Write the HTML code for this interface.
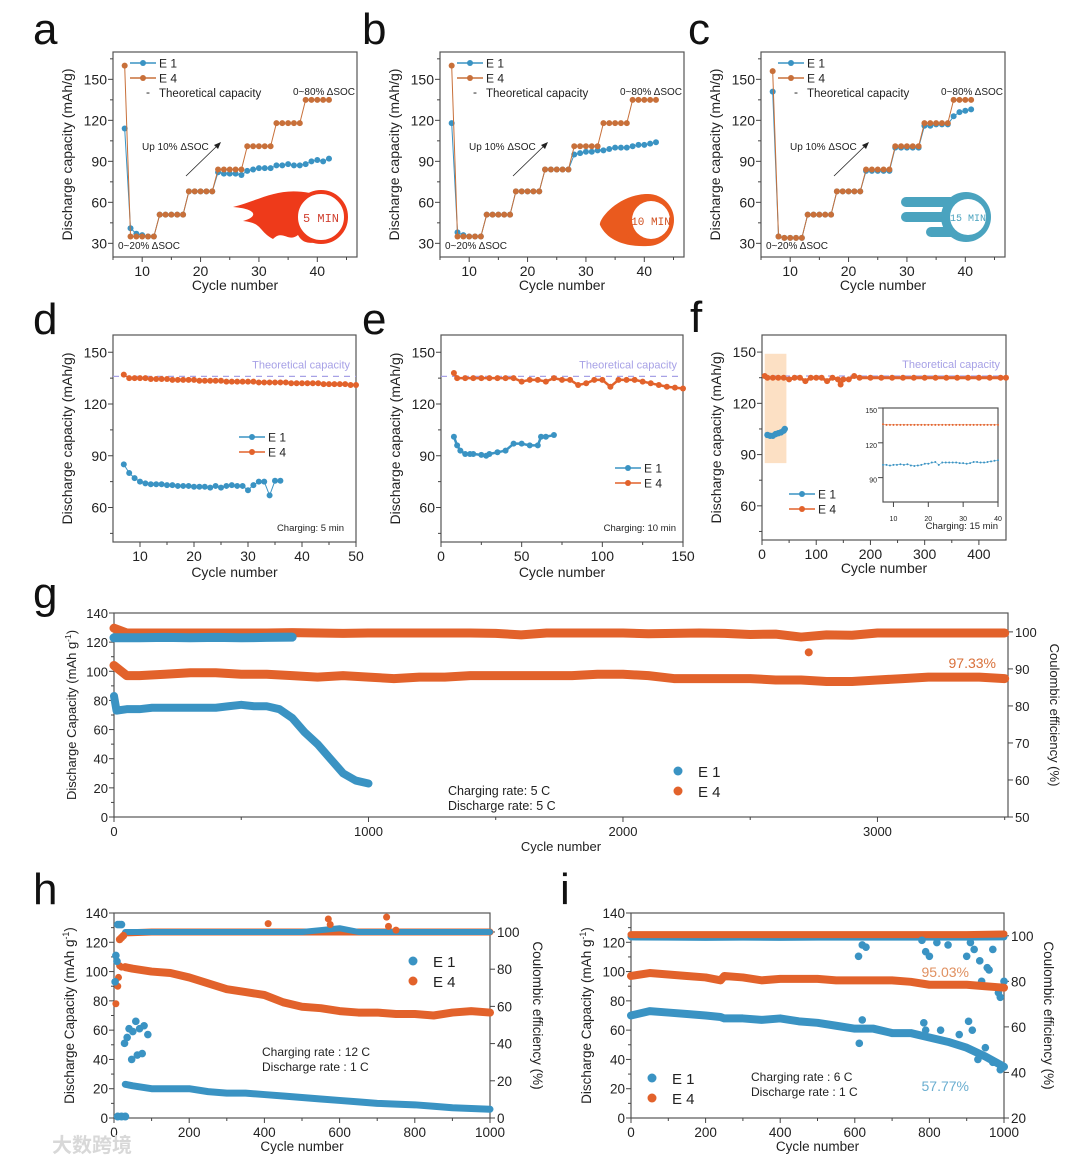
<!DOCTYPE html>
<html><head><meta charset="utf-8">
<style>
html,body{margin:0;padding:0;background:#fff;}
svg{display:block;font-family:"Liberation Sans",Arial,sans-serif;}
</style></head>
<body>
<svg id="fig" width="1080" height="1164" viewBox="0 0 1080 1164"></svg>
<script>
// ---------- DATA ----------
const aCycles=[7,8,9,10,11,12,13,14,15,16,17,18,19,20,21,22,23,24,25,26,27,28,29,30,31,32,33,34,35,36,37,38,39,40,41,42];
const aE4=[160,35,35,35,35,35,51,51,51,51,51,68,68,68,68,68,84,84,84,84,84,101,101,101,101,101,118,118,118,118,118,135,135,135,135,135];
const aE1=[114,41,37,36,35,35,51,51,51,51,51,68,68,68,68,68,82,81,81,81,80,83,84,85,85,85,87,87,88,87,87,88,90,91,90,92];
const bE4=[160,35,35,35,35,35,51,51,51,51,51,68,68,68,68,68,84,84,84,84,84,101,101,101,101,101,118,118,118,118,118,135,135,135,135,135];
const bE1=[118,38,36,35,35,35,51,51,51,51,51,68,68,68,68,68,84,84,84,84,84,95,96,97,97,98,98,99,100,100,100,101,102,102,103,104];
const cCycles=[7,8,9,10,11,12,13,14,15,16,17,18,19,20,21,22,23,24,25,26,27,28,29,30,31,32,33,34,35,36,37,38,39,40,41];
const cE4=[156,35,34,34,34,34,51,51,51,51,51,68,68,68,68,68,84,84,84,84,84,101,101,101,101,101,118,118,118,118,118,135,135,135,135];
const cE1=[141,35,34,34,34,34,51,51,51,51,51,68,68,68,68,68,83,83,83,83,83,100,100,100,100,100,116,116,117,117,117,123,126,127,128];

const dCyclesE4=[7,8,9,10,11,12,13,14,15,16,17,18,19,20,21,22,23,24,25,26,27,28,29,30,31,32,33,34,35,36,37,38,39,40,41,42,43,44,45,46,47,48,49,50];
const dE4=[137,135,135,135,135,134.5,134.5,134.5,134.5,134,134,134,134,134,133.5,133.5,133.5,133.5,133.5,133,133,133,133,133,133,132.5,132.5,132.5,132.5,132.5,132.5,132,132,132,132,132,132,131.5,131.5,131.5,131.5,131.5,131,131];
const dCyclesE1=[7,8,9,10,11,12,13,14,15,16,17,18,19,20,21,22,23,24,25,26,27,28,29,30,31,32,33,34,35,36];
const dE1=[85,80,77,75,74,73.5,73.5,73.5,73,73,72.5,72.5,72.5,72,72,72,71.5,72.5,71.5,72.5,73,72.5,72.5,70,73,75,75,67,75.5,75.5];

const eCyclesE4=[8,10,15,20,25,30,35,40,45,50,55,60,65,70,75,80,85,90,95,100,105,110,115,120,125,130,135,140,145,150];
const eE4=[138,135,135,135,135,135,135,135,135,133,134,134,133,135,134,134,131,132,134,134,130,134,134,134,133,132,131,130,129.5,129];
const eCyclesE1=[8,10,12,15,18,20,25,28,30,35,40,45,50,55,60,62,65,70];
const eE1=[101,96,93,91,91,91,90.5,90,91,92,93,97,97,96,96,101,101,102];

const fCyclesE4=[5,10,20,30,40,50,60,70,80,90,100,110,120,130,140,145,150,160,170,180,200,220,240,260,280,300,320,340,360,380,400,420,440,450];
const fE4=[136,135,135,135,135,134,135,135,133,135,135,135,133,135,134,131,134,134,136,135,135,135,135,135,135,135,135,135,135,135,135,135,135,135];
const fCyclesE1=[10,15,20,25,30,35,40,42];
const fE1=[101.5,101,101,102,102.5,103,104,105];
const insetCycles=[7,8,9,10,11,12,13,14,15,16,17,18,19,20,21,22,23,24,25,26,27,28,29,30,31,32,33,34,35,36,37,38,39,40];
const insetE4=[136,135.5,135.5,135.5,135.5,135.5,135.5,135.5,135.5,135.5,135.5,135.5,135.5,135.5,135.5,135.5,135.5,135.5,135.5,135.5,135.5,135.5,135.5,135.5,135.5,135.5,135.5,135.5,135.5,135.5,135.5,135.5,135.5,135.5];
const insetE1=[101,101,100.5,101,101,101.5,101,101.5,100.5,100,100.5,101,102,102,103,103.5,101,103,103,103,103,103,102.5,102.5,102,102.5,103.5,103.5,103,103,103.5,104,104.5,105];

const gCyclesE4=[0,50,100,200,300,400,500,600,700,800,900,1000,1100,1200,1300,1400,1500,1600,1700,1800,1900,2000,2100,2200,2300,2400,2500,2600,2700,2800,2900,3000,3100,3200,3300,3400,3500];
const gE4cap=[104,97,97,98,99,99,98,98,97,96,97,96,95,96,96,97,97,97,97,97,98,98,97,95,95,95,95,94,94,93,93,94,95,96,96,96,95];
const gE4ce=[101,99.7,99.7,99.7,99.7,99.7,99.7,99.7,99.8,99.7,99.6,99.7,99.7,99.7,99.7,99.7,99.6,99.2,99.7,99.7,99.7,99.7,99.5,99.6,99.7,99.6,99.3,99.4,98.6,99.2,99.1,99.7,99.7,99.7,99.7,99.7,99.7];
const gCyclesE1=[0,10,50,100,150,200,250,300,350,400,450,500,550,600,650,700,750,800,850,900,950,1000];
const gE1cap=[83,73,74,74,75,75,75,75,75,75,76,77,76,76,74,68,58,50,40,30,25,23];
const gCyclesE1ce=[0,100,200,300,400,500,600,700];
const gE1ce=[98.4,98.4,98.5,98.4,98.5,98.4,98.5,98.6];

const hCycles=[30,50,100,150,200,250,300,350,400,450,500,550,600,650,700,750,800,850,900,950,1000];
const hE4cap=[103,102,100,99,96,92,88,86,84,79,76,75,73,72,72,71,71,70,72,73,72];
const hE1cap=[23,22,20,20,20,18,17,17,16,15,14,13,12,11,10,9.5,9,8,7,6.5,6];
const hE1earlyX=[3,5,8,28,35,40,47,50,58,62,68,75,80,90];
const hE1earlyY=[93,111,107,51,55,61,40,59,66,43,61,44,63,57];
const hE4earlyX=[5,10,12,15,20];
const hE4earlyY=[78,90,96,104,103];
const hCeX=[30,100,200,300,400,500,550,600,650,700,800,900,1000];
const hE4ce=[99.5,100,100,100,100,100,100,100,100,100,100,100,100];
const hE1ce=[100,100,100,100,100,100,101,102,100,100,100,100,100];
const hE1ceEarlyX=[10,15,20];
const hE1ceEarlyY=[104,104,104];
const hE4ceEarlyX=[15,20,25];
const hE4ceEarlyY=[96,97,98];
const hE4outX=[410,570,575,725,730,750];
const hE4outY=[104.5,107,104,108,103,101];

const iCycles=[0,50,100,150,200,240,250,300,350,400,450,500,550,600,650,700,750,800,850,900,950,1000];
const iE4cap=[97,99,98,97,96,94,97,96,94,95,95,95,94,94,94,94,93,91,91,91,90,89];
const iE1cap=[70,73,72,71,70,69,68,68,67,68,66,65,63,61,61,58,58,55,52,48,42,35];
const iE1outX=[612,620,785,790,830,880,905,915,930,950,970,990];
const iE1outY=[51,67,65,60,60,57,66,60,40,48,38,33];
const iCeX=[0,100,200,300,400,500,600,700,800,900,1000];
const iE4ce=[100.5,100.5,100.5,100.5,100.5,100.5,100.5,100.5,100.5,100.5,100.8];
const iE1ce=[99.5,99.4,99.3,99.4,99.3,99.4,99.4,99.4,99.4,99.4,99.5];
const iE1ceOutX=[610,620,630,780,790,800,820,850,900,910,920,935,940,955,960,970,985,990,1000];
const iE1ceOutY=[91,96,95,98,93,91,97,96,91,97,94,89,80,86,85,94,75,73,80];

// ---------- HELPERS ----------
const NS='http://www.w3.org/2000/svg';
const svg=document.getElementById('fig');
const BLUE='#3a93c3', ORANGE='#e2622b', BROWN='#c8703a', LAV='#a7a1e6';
function mk(tag,attrs,parent){const e=document.createElementNS(NS,tag);for(const k in attrs)e.setAttribute(k,attrs[k]);(parent||svg).appendChild(e);return e;}
function tx(str,x,y,attrs,parent){const e=mk('text',Object.assign({x:x,y:y},attrs||{}),parent);e.textContent=str;return e;}

function axes(o){
  const g=mk('g',{});
  
  
  const sx=v=>o.x0+(v-o.xd[0])/(o.xd[1]-o.xd[0])*(o.x1-o.x0);
  const sy=v=>o.y1-(v-o.yd[0])/(o.yd[1]-o.yd[0])*(o.y1-o.y0);
  const sy2=o.y2d?(v=>o.y1-(v-o.y2d[0])/(o.y2d[1]-o.y2d[0])*(o.y1-o.y0)):null;
  const fs=o.fs||14, ff=o.ff||'"Liberation Sans",Arial,sans-serif';
  const fr=mk('rect',{x:o.x0,y:o.y0,width:o.x1-o.x0,height:o.y1-o.y0,fill:'none',stroke:'#555','stroke-width':1.2},g);
  
  
  o.xt.forEach((v,i)=>{const x=sx(v);mk('line',{x1:x,y1:o.y1,x2:x,y2:o.y1+5,stroke:'#444'},g);
    const t=tx(o.xtl?o.xtl[i]:String(v),x,o.y1+19,{'font-size':fs,'text-anchor':'middle',fill:'#222','font-family':ff},g);
    
    });
  (o.xm||[]).forEach(v=>{const x=sx(v);mk('line',{x1:x,y1:o.y1,x2:x,y2:o.y1+3,stroke:'#444'},g);});
  o.yt.forEach(v=>{const y=sy(v);mk('line',{x1:o.x0,y1:y,x2:o.x0-5,y2:y,stroke:'#444'},g);
    const t=tx(String(v),o.x0-6,y+5,{'font-size':fs,'text-anchor':'end',fill:'#222','font-family':ff},g);
    
    });
  (o.ym||[]).forEach(v=>{const y=sy(v);mk('line',{x1:o.x0,y1:y,x2:o.x0-3,y2:y,stroke:'#444'},g);});
  if(o.y2t){o.y2t.forEach(v=>{const y=sy2(v);mk('line',{x1:o.x1,y1:y,x2:o.x1+5,y2:y,stroke:'#444'},g);
    const t=tx(String(v),o.x1+7,y+5,{'font-size':fs,'text-anchor':'start',fill:'#222','font-family':ff},g);
    
    });}
  const xl=tx(o.xlabel,(o.x0+o.x1)/2,o.y1+(o.xlOff||36),{'font-size':o.tfs||14,'text-anchor':'middle',fill:'#222','font-family':ff},g);
  
  
  const ylx=o.x0-(o.ylOff||38), yly=(o.y0+o.y1)/2;
  const yl=tx('',ylx,yly,{'font-size':o.tfs||14,'text-anchor':'middle',fill:'#222',transform:`rotate(-90 ${ylx} ${yly})`},g);
  
  
  if(o.ylsup){yl.appendChild(document.createTextNode(o.ylabel));const s=mk('tspan',{'baseline-shift':'super','font-size':(o.tfs||14)*0.65},yl);s.textContent='-1';yl.appendChild(document.createTextNode(')'));}
  else yl.textContent=o.ylabel;
  if(o.y2label){const x2=o.x1+(o.y2Off||40);
    const y2=tx(o.y2label,x2,yly,{'font-size':o.tfs||14,'text-anchor':'middle',fill:'#222',transform:`rotate(90 ${x2} ${yly})`},g);
    
    }
  return {g,sx,sy,sy2};
}
function series(ax,xs,ys,color,r,line,name,useY2,lw){
  const g=mk('g',{},ax.g);
  
  
  const fy=useY2?ax.sy2:ax.sy;
  if(line){mk('polyline',{points:xs.map((x,i)=>ax.sx(x)+','+fy(ys[i])).join(' '),fill:'none',stroke:line,'stroke-width':lw||1,'stroke-linejoin':'round','stroke-linecap':'round'},g);}
  if(r>0)xs.forEach((x,i)=>{const c=mk('circle',{cx:ax.sx(x),cy:fy(ys[i]),r:r,fill:color},g);
    
    });
  return g;
}
function letter(s,x,y){const t=tx(s,x,y,{'font-size':44,fill:'#111'});
  
  }
function legendLine(ax,x,y,color,label,fs){
  const g=mk('g',{},ax.g);
  
  
  mk('line',{x1:x,y1:y,x2:x+26,y2:y,stroke:color,'stroke-width':1.5},g);
  mk('circle',{cx:x+13,cy:y,r:3,fill:color},g);
  tx(label,x+29,y+4.5,{'font-size':fs||12,fill:'#222'},g);
}
function legendDot(ax,x,y,color,label,fs){
  const g=mk('g',{},ax.g);
  
  
  mk('circle',{cx:x,cy:y,r:4.5,fill:color},g);
  tx(label,x+20,y+6,{'font-size':fs||16,fill:'#222'},g);
}
function note(ax,s,x,y,fs,color,name,anchor){const t=tx(s,x,y,{'font-size':fs,fill:color||'#222','text-anchor':anchor||'start'},ax.g);
  
  return t;}

// ---------- PANELS a-c ----------
const abcX=[10,20,30,40], abcXm=[5,15,25,35,45], abcY=[30,60,90,120,150], abcYm=[45,75,105,135,165];
function stepPanel(name,x0,cyc,e4,e1,icon){
  const ax=axes({name:name,x0:x0,x1:x0+244,y0:52,y1:257,xd:[5,46.8],yd:[20,170],xt:abcX,xm:abcXm,yt:abcY,ym:abcYm,xlabel:'Cycle number',ylabel:'Discharge capacity (mAh/g)',fs:14,tfs:14,ylOff:41,xlOff:33});
  series(ax,cyc,e1,BLUE,3,BLUE,'series-e1');
  series(ax,cyc,e4,BROWN,3,BROWN,'series-e4');
  legendLine(ax,x0+17,63,BLUE,'E 1');
  legendLine(ax,x0+17,78,BROWN,'E 4');
  note(ax,'-',x0+33,96,12,'#222','legend-theoretical-marker');
  note(ax,'Theoretical capacity',x0+46,97,11.5,'#222','legend-theoretical-label');
  note(ax,'0~80% ΔSOC',x0+180,95,10,'#222','annotation-80-soc');
  note(ax,'0~20% ΔSOC',x0+5,249,10,'#222','annotation-20-soc');
  note(ax,'Up 10% ΔSOC',x0+29,150,10,'#222','annotation-up-10');
  const ar=mk('g',{},ax.g);
  
  
  mk('line',{x1:x0+73,y1:176,x2:x0+106,y2:144,stroke:'#222','stroke-width':0.8},ar);
  mk('polygon',{points:`${x0+108},${142} ${x0+101},${145} ${x0+105},${149}`,fill:'#222'},ar);
  icon(ax,x0);
  return ax;
}
function flameIcon(ax,x0){const g=mk('g',{},ax.g);
  
  
  const cx=x0+205,cy=217;
  mk('path',{d:`M${cx-8},${cy-24} C${cx-40},${cy-30} ${cx-55},${cy-18} ${cx-85},${cy-10} C${cx-60},${cy-8} ${cx-60},${cy} ${cx-75},${cy+4} C${cx-55},${cy+6} ${cx-60},${cy+14} ${cx-45},${cy+22} C${cx-35},${cy+12} ${cx-30},${cy+26} ${cx-20},${cy+18} C${cx-15},${cy+28} ${cx-5},${cy+26} ${cx},${cy+25} Z`,fill:'#ee3a1a'},g);
  mk('circle',{cx:cx+3,cy:cy,r:25,fill:'#fff',stroke:'#ee3a1a','stroke-width':4},g);
  tx('5 MIN',cx+3,cy+5,{'font-size':12,'text-anchor':'middle',fill:'#d04030','font-family':'"Liberation Mono",monospace'},g);}
function cometIcon(ax,x0){const g=mk('g',{},ax.g);
  
  
  const cx=x0+208,cy=220;
  mk('path',{d:`M${cx},${cy-26} C${cx-30},${cy-26} ${cx-50},${cy} ${cx-48},${cy+5} C${cx-40},${cy+22} ${cx-20},${cy+27} ${cx},${cy+26} Z`,fill:'#ea5a1e'},g);
  mk('circle',{cx:cx,cy:cy,r:26,fill:'#ea5a1e'},g);
  mk('circle',{cx:cx+3,cy:cy,r:19,fill:'#fff'},g);
  tx('10 MIN',cx+3,cy+5,{'font-size':11,'text-anchor':'middle',fill:'#d05020','font-family':'"Liberation Mono",monospace'},g);}
function speedIcon(ax,x0){const g=mk('g',{},ax.g);
  
  
  const cx=x0+205,cy=217;const col='#4aa3bf';
  mk('rect',{x:cx-65,y:cy-20,width:60,height:10,rx:5,fill:col},g);
  mk('rect',{x:cx-65,y:cy-5,width:60,height:10,rx:5,fill:col},g);
  mk('rect',{x:cx-40,y:cy+10,width:40,height:10,rx:5,fill:col},g);
  mk('circle',{cx:cx,cy:cy,r:25,fill:col},g);
  mk('circle',{cx:cx+2,cy:cy,r:18,fill:'#fff'},g);
  tx('15 MIN',cx+2,cy+4,{'font-size':10,'text-anchor':'middle',fill:col,'font-family':'"Liberation Mono",monospace'},g);}
letter('a',33,44); letter('b',362,44); letter('c',688,44);
stepPanel('panel-a',113,aCycles,aE4,aE1,flameIcon);
stepPanel('panel-b',440,aCycles,bE4,bE1,cometIcon);
stepPanel('panel-c',761,cCycles,cE4,cE1,speedIcon);

// ---------- PANELS d-f ----------
const defY=[60,90,120,150], defYm=[45,75,105,135];
letter('d',33,334); letter('e',362,334); letter('f',690,332);
function theo(ax,x0,x1){const g=mk('g',{},ax.g);
  
  
  mk('line',{x1:x0,y1:ax.sy(136),x2:x1,y2:ax.sy(136),stroke:LAV,'stroke-width':1.3,'stroke-dasharray':'6,5'},g);
  tx('Theoretical capacity',x1-6,ax.sy(136)-8,{'font-size':11,'text-anchor':'end',fill:LAV},g);}
const axD=axes({name:'panel-d',x0:113,x1:356,y0:335,y1:542,xd:[5,50],yd:[40,160],xt:[10,20,30,40,50],xm:[15,25,35,45],yt:defY,ym:defYm,xlabel:'Cycle number',ylabel:'Discharge capacity (mAh/g)',ylOff:41,xlOff:35});
theo(axD,113,356);
series(axD,dCyclesE4,dE4,ORANGE,3,ORANGE,'series-e4');
series(axD,dCyclesE1,dE1,BLUE,3,BLUE,'series-e1');
legendLine(axD,239,437,BLUE,'E 1');
legendLine(axD,239,452,ORANGE,'E 4');
note(axD,'Charging: 5 min',344,531,9.5,'#222','charging-note','end');

const axE=axes({name:'panel-e',x0:441,x1:683,y0:335,y1:542,xd:[0,150],yd:[40,160],xt:[0,50,100,150],xm:[25,75,125],yt:defY,ym:defYm,xlabel:'Cycle number',ylabel:'Discharge capacity (mAh/g)',ylOff:41,xlOff:35});
theo(axE,441,683);
series(axE,eCyclesE4,eE4,ORANGE,3,ORANGE,'series-e4',false,2.5);
series(axE,eCyclesE1,eE1,BLUE,3,BLUE,'series-e1',false,2.5);
legendLine(axE,615,468,BLUE,'E 1');
legendLine(axE,615,483,ORANGE,'E 4');
note(axE,'Charging: 10 min',676,531,9.5,'#222','charging-note','end');

const axF=axes({name:'panel-f',x0:762,x1:1006,y0:335,y1:540,xd:[0,450],yd:[40,160],xt:[0,100,200,300,400],xm:[50,150,250,350],yt:defY,ym:defYm,xlabel:'Cycle number',ylabel:'Discharge capacity (mAh/g)',ylOff:41,xlOff:33});
const sh=mk('rect',{x:axF.sx(5),y:axF.sy(149),width:axF.sx(45)-axF.sx(5),height:axF.sy(85)-axF.sy(149),fill:'#fbd8b5',opacity:0.8},axF.g);


theo(axF,762,1006);
series(axF,fCyclesE4,fE4,ORANGE,3,ORANGE,'series-e4',false,3);
series(axF,fCyclesE1,fE1,BLUE,3.2,BLUE,'series-e1',false,3);
legendLine(axF,789,494,BLUE,'E 1');
legendLine(axF,789,509,ORANGE,'E 4');
note(axF,'Charging: 15 min',998,529,9.5,'#222','charging-note','end');
const axIn=axes({name:'panel-f-inset',x0:883,x1:998,y0:408,y1:502,xd:[7,40],yd:[69,150],xt:[10,20,30,40],yt:[90,120,150],xlabel:'',ylabel:'',fs:7,tfs:7,xlOff:0});
series(axIn,insetCycles,insetE4,ORANGE,1,ORANGE,'inset-series-e4',false,0.5);
series(axIn,insetCycles,insetE1,BLUE,1,BLUE,'inset-series-e1',false,0.5);

// ---------- PANEL g ----------
letter('g',33,608);
const NF='"Liberation Sans Narrow","Liberation Sans",sans-serif';
const axG=axes({name:'panel-g',x0:114,x1:1008,y0:613,y1:817,xd:[0,3513],yd:[0,140],y2d:[50,105.1],xt:[0,1000,2000,3000],xm:[500,1500,2500,3500],yt:[0,20,40,60,80,100,120,140],ym:[10,30,50,70,90,110,130],y2t:[50,60,70,80,90,100],xlabel:'Cycle number',ylabel:'Discharge Capacity (mAh g',ylsup:true,y2label:'Coulombic efficiency (%)',fs:13,tfs:13,ylOff:38,y2Off:42,xlOff:34,ff:NF});
series(axG,gCyclesE4,gE4ce,ORANGE,0,ORANGE,'series-e4-ce',true,9);
series(axG,gCyclesE1ce,gE1ce,BLUE,0,BLUE,'series-e1-ce',true,9);
series(axG,gCyclesE4,gE4cap,ORANGE,0,ORANGE,'series-e4-capacity',false,9);
series(axG,gCyclesE1,gE1cap,BLUE,0,BLUE,'series-e1-capacity',false,8);
series(axG,[2730],[113],ORANGE,4,null,'outlier-e4');
legendDot(axG,678,771,BLUE,'E 1',15);
legendDot(axG,678,791,ORANGE,'E 4',15);
note(axG,'Charging rate:  5 C',448,795,12.5,'#222','charging-rate-note');
note(axG,'Discharge rate: 5 C',448,810,12.5,'#222','discharge-rate-note');
note(axG,'97.33%',996,668,14,'#d9703a','retention-e4','end');

// ---------- PANEL h ----------
letter('h',33,904);
const axH=axes({name:'panel-h',x0:114,x1:490,y0:913,y1:1118,xd:[0,1000],yd:[0,140],y2d:[0,110.2],xt:[0,200,400,600,800,1000],xm:[100,300,500,700,900],yt:[0,20,40,60,80,100,120,140],ym:[10,30,50,70,90,110,130],y2t:[0,20,40,60,80,100],xlabel:'Cycle number',ylabel:'Discharge Capacity (mAh g',ylsup:true,y2label:'Coulombic efficiency (%)',fs:13.5,tfs:13.5,ylOff:40,y2Off:43,xlOff:33});
series(axH,hCeX,hE4ce,ORANGE,0,ORANGE,'series-e4-ce',true,7);
series(axH,hCeX,hE1ce,BLUE,0,BLUE,'series-e1-ce',true,6);
series(axH,hE1ceEarlyX,hE1ceEarlyY,BLUE,3.8,null,'early-e1-ce',true);
series(axH,hE4ceEarlyX,hE4ceEarlyY,ORANGE,3.8,null,'early-e4-ce',true);
series(axH,hE4outX,hE4outY,ORANGE,3.5,null,'outliers-e4-ce',true);
series(axH,hCycles,hE4cap,ORANGE,0,ORANGE,'series-e4-capacity',false,8);
series(axH,hE4earlyX,hE4earlyY,ORANGE,3.5,null,'early-e4-capacity');
series(axH,hCycles,hE1cap,BLUE,0,BLUE,'series-e1-capacity',false,7);
series(axH,hE1earlyX,hE1earlyY,BLUE,3.8,null,'early-e1-capacity');
series(axH,[10,20,30],[1,1,1],BLUE,4,BLUE,'early-e1-low',false,6);
legendDot(axH,413,961,BLUE,'E 1',15);
legendDot(axH,413,981,ORANGE,'E 4',15);
note(axH,'Charging rate : 12 C',262,1056,12,'#222','charging-rate-note');
note(axH,'Discharge rate : 1 C',262,1071,12,'#222','discharge-rate-note');

// ---------- PANEL i ----------
letter('i',560,904);
const axI=axes({name:'panel-i',x0:631,x1:1004,y0:913,y1:1118,xd:[0,1000],yd:[0,140],y2d:[20,110],xt:[0,200,400,600,800,1000],xm:[100,300,500,700,900],yt:[0,20,40,60,80,100,120,140],ym:[10,30,50,70,90,110,130],y2t:[20,40,60,80,100],xlabel:'Cycle number',ylabel:'Discharge Capacity (mAh g',ylsup:true,y2label:'Coulombic efficiency (%)',fs:13.5,tfs:13.5,ylOff:40,y2Off:40,xlOff:33});
series(axI,iCeX,iE1ce,BLUE,0,BLUE,'series-e1-ce',true,7);
series(axI,iCeX,iE4ce,ORANGE,0,ORANGE,'series-e4-ce',true,7);
series(axI,iE1ceOutX,iE1ceOutY,BLUE,3.8,null,'outliers-e1-ce',true);
series(axI,iCycles,iE4cap,ORANGE,0,ORANGE,'series-e4-capacity',false,8);
series(axI,iCycles,iE1cap,BLUE,0,BLUE,'series-e1-capacity',false,8);
series(axI,iE1outX,iE1outY,BLUE,3.8,null,'outliers-e1-capacity');
legendDot(axI,652,1078,BLUE,'E 1',15);
legendDot(axI,652,1098,ORANGE,'E 4',15);
note(axI,'Charging rate : 6 C',751,1081,12,'#222','charging-rate-note');
note(axI,'Discharge rate : 1 C',751,1096,12,'#222','discharge-rate-note');
note(axI,'95.03%',969,977,14,'#e09060','retention-e4','end');
note(axI,'57.77%',969,1091,14,'#6aaed0','retention-e1','end');

// watermark
const wm=tx('大数跨境',52,1152,{'font-size':20,fill:'#d8d8d8','font-family':'"Liberation Sans","Noto Sans CJK SC",sans-serif','font-weight':'bold'});


</script>
</body></html>
